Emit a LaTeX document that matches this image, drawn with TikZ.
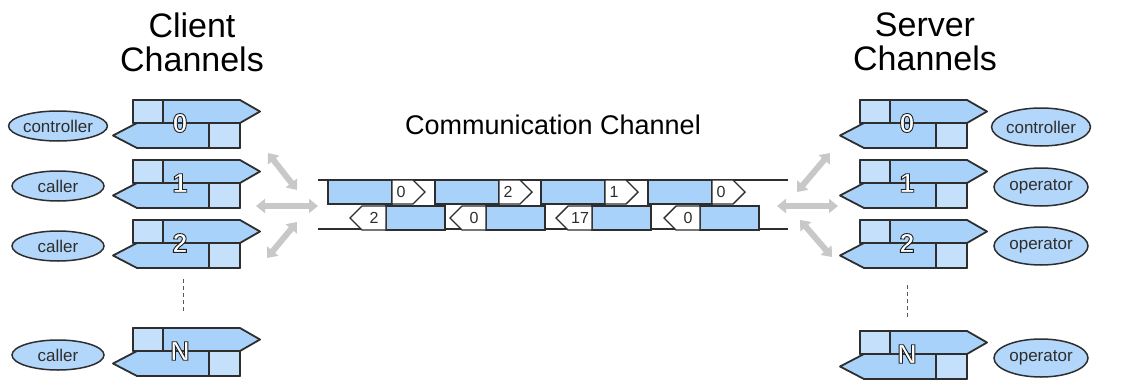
\documentclass[tikz,border=0pt]{standalone}
\usepackage{fontspec}
\setmainfont{Liberation Sans}
\usetikzlibrary{shapes.geometric,arrows.meta,calc}
\definecolor{chblue}{HTML}{A9D2FA}
\definecolor{chlight}{HTML}{C5E0FB}
\definecolor{elblue}{HTML}{B3D7FA}
\definecolor{ink}{HTML}{2E2E2E}
\definecolor{arrgray}{HTML}{C8C8C8}
\newcommand\outl[1]{\special{pdf:literal 2 Tr 0.9 w 1 g 0.12 0.12 0.12 RG}#1\special{pdf:literal 0 Tr}}
\newcommand\changlyph[4]{%
  \begin{scope}[shift={(#1,#2)}]
    \filldraw[gly, fill=chblue] (0,-23) -- (107,-23) -- (127,-11.5) -- (107,0) -- (0,0) -- cycle;
    \filldraw[gly, fill=chlight] (0,-23) rectangle (30,0);
    \filldraw[gly, fill=chblue] (-20,12.5) -- (4,0) -- (107,0) -- (107,25) -- (4,25) -- cycle;
    \filldraw[gly, fill=chlight] (76,0) rectangle (107,25);
    \node[num] (#4) at (47,0) {\outl{#3}};
  \end{scope}}
\newcommand\pktright[3]{%
  \begin{scope}[shift={(#1,0)}]
    \filldraw[pk, fill=chblue] (0,180) rectangle (64,204);
    \filldraw[pk, fill=white] (64,180) -- (85,180) -- (97,192) -- (85,204) -- (64,204) -- cycle;
    \node[plabel] (#3) at (73,192) {#2};
  \end{scope}}
\newcommand\pktleft[3]{%
  \begin{scope}[shift={(#1,0)}]
    \filldraw[pk, fill=chblue] (36,206) rectangle (95,230);
    \filldraw[pk, fill=white] (36,206) -- (12,206) -- (0,218) -- (12,230) -- (36,230) -- cycle;
    \node[plabel] (#3) at (24,218) {#2};
  \end{scope}}
\begin{document}
\begin{tikzpicture}[x=1pt,y=-1pt,
  gly/.style={draw=ink, line width=1.8pt, line join=round},
  pk/.style={draw=ink, line width=1.4pt},
  num/.style={text=white, font=\bfseries\fontsize{27}{27}\selectfont, inner sep=0},
  role/.style={ellipse, draw=ink, line width=1.5pt, fill=elblue, minimum width=92pt, minimum height=30pt, inner sep=0, font=\fontsize{17}{17}\selectfont, text=ink},
  srole/.style={role, minimum width=94pt, minimum height=38pt},
  plabel/.style={font=\fontsize{16}{16}\selectfont, text=ink, inner sep=0},
  title/.style={font=\fontsize{34}{34}\selectfont, align=center, text=black},
  flow/.style={draw=arrgray, line width=6pt, {Triangle[length=9pt,width=14pt]}-{Triangle[length=9pt,width=14pt]}},
  wire/.style={draw=ink, line width=1.3pt},
  dots/.style={draw=ink!80, line width=0.9pt, dash pattern=on 4pt off 3pt}
]
\useasboundingbox[fill=white] (0,0) rectangle (1127,391);

% titles
\node[title] (tclient) at (192,42) {Client\\Channels};
\node[title] (tserver) at (925,42) {Server\\Channels};
\node[font=\fontsize{27}{27}\selectfont] (tcomm) at (553,125) {Communication Channel};

% client side
\node[role] (cl0) at (58,126) {controller};
\node[role] (cl1) at (58,186) {caller};
\node[role] (cl2) at (58,246) {caller};
\node[role] (clN) at (58,355) {caller};
\changlyph{133}{123}{0}{c0}
\changlyph{133}{183}{1}{c1}
\changlyph{133}{243}{2}{c2}
\changlyph{133}{351}{N}{cN}
\draw[dots] ($(c2)+(3,36)$) -- ($(cN)+(3,-38)$);

% server side
\node[srole] (se0) at (1041,127) {controller};
\node[srole] (se1) at (1041,187) {operator};
\node[srole] (se2) at (1041,246) {operator};
\node[srole] (seN) at (1041,358) {operator};
\changlyph{860}{123}{0}{s0}
\changlyph{860}{183}{1}{s1}
\changlyph{860}{243}{2}{s2}
\changlyph{860}{354}{N}{sN}
\draw[dots] ($(s2)+(0,42)$) -- ($(sN)+(0,-35)$);

% communication channel
\coordinate (wtl) at (318,180); \coordinate (wtr) at (788,180);
\coordinate (wbl) at (318,229); \coordinate (wbr) at (788,229);
\draw[wire] (wtl) -- (wtr);
\draw[wire] (wbl) -- (wbr);
\pktright{328}{0}{p1}
\pktright{435}{2}{p2}
\pktright{541}{1}{p3}
\pktright{648}{0}{p4}
\pktleft{350}{2}{q1}
\pktleft{450}{0}{q2}
\pktleft{556}{17}{q3}
\pktleft{664}{0}{q4}

% gray flows
\coordinate (la1) at (268,153); \coordinate (la2) at (297,190);
\coordinate (lb1) at (256,206); \coordinate (lb2) at (318,206);
\coordinate (lc1) at (297,222); \coordinate (lc2) at (267,258);
\coordinate (ra1) at (797,192); \coordinate (ra2) at (830,153);
\coordinate (rb1) at (777,206); \coordinate (rb2) at (838,206);
\coordinate (rc1) at (800,220); \coordinate (rc2) at (832,257);
\draw[flow] (la1) -- (la2);
\draw[flow] (lb1) -- (lb2);
\draw[flow] (lc1) -- (lc2);
\draw[flow] (ra1) -- (ra2);
\draw[flow] (rb1) -- (rb2);
\draw[flow] (rc1) -- (rc2);
\end{tikzpicture}
\end{document}
